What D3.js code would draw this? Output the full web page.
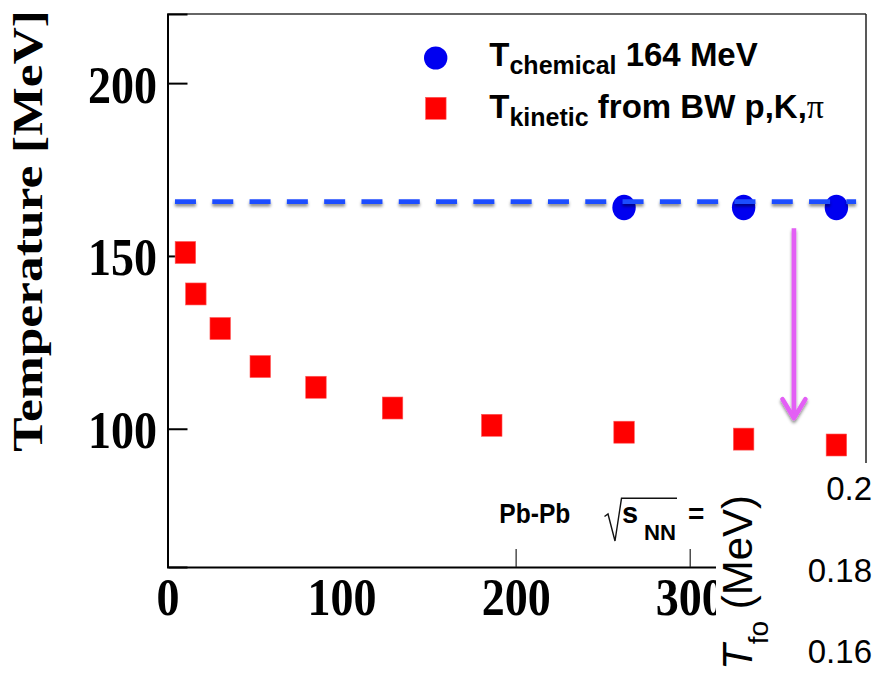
<!DOCTYPE html>
<html>
<head>
<meta charset="utf-8">
<script src="https://cdn.jsdelivr.net/npm/d3@7/dist/d3.min.js"></script>
<style>
  html, body { margin: 0; padding: 0; background: #fff; }
  svg { display: block; }
</style>
</head>
<body>
<svg id="chart" width="873" height="675"></svg>
<script>
// ---- data ----
const xKinetic = [10, 16, 30, 53, 85, 129, 186, 262, 330.7, 384];
const tKinetic = [151, 139, 129, 118, 112, 106, 101, 99, 97, 95.3];
const xChemical = [262, 330.7, 384];
const tChemical = [164, 164, 164];
const tChemLine = 165.7;
const chemLineRange = [4, 395.3];
const arrowX = 359.6;
const arrowFrom = 158;
const arrowTo = 102.5;
const yTicks = [100, 150, 200];
const xTicks = [0, 100, 200, 300];
const xTickMarks = [200, 300];
const insetTicks = [0.16, 0.18, 0.2];

const svg = d3.select("#chart");
const x = d3.scaleLinear().domain([0, 401]).range([168, 866]);
const y = d3.scaleLinear().domain([60, 220]).range([567, 14]);

const defs = svg.append("defs");
const f = defs.append("filter").attr("id", "shadow")
  .attr("filterUnits", "userSpaceOnUse")
  .attr("x", 0).attr("y", 0).attr("width", 873).attr("height", 675);
f.append("feDropShadow").attr("dx", 0).attr("dy", 2.5).attr("stdDeviation", 1.4)
  .attr("flood-color", "#000").attr("flood-opacity", 0.45);

const serif = "'Liberation Serif', 'Times New Roman', serif";
const sans = "'Liberation Sans', Arial, Helvetica, sans-serif";

// ---- frame ----
svg.append("line").attr("x1", x(0) - 0.5).attr("x2", 866).attr("y1", 14).attr("y2", 14)
  .attr("stroke", "#333").attr("stroke-width", 1.5);
svg.append("line").attr("x1", 866).attr("x2", 866).attr("y1", 14).attr("y2", 567)
  .attr("stroke", "#222").attr("stroke-width", 1.5);

// y axis
const yAxis = d3.axisRight(y).tickValues(yTicks).tickSize(20).tickFormat("");
const gy = svg.append("g").attr("transform", `translate(${x(0) - 0.5},0)`).call(yAxis);
gy.select(".domain").attr("stroke", "#000").attr("stroke-width", 2);
gy.selectAll(".tick line").attr("stroke", "#000").attr("stroke-width", 2);

// y tick labels
svg.append("g").selectAll("text").data(yTicks).join("text")
  .attr("x", 157).attr("y", d => y(d)).attr("dy", "0.366em")
  .attr("text-anchor", "end")
  .attr("font-family", serif).attr("font-weight", "bold").attr("font-size", 53)
  .attr("textLength", d => String(d).length * 23).attr("lengthAdjust", "spacingAndGlyphs")
  .text(d => d);

// x axis
const xAxis = d3.axisBottom(x).tickValues(xTicks).tickSize(0).tickFormat("");
const gx = svg.append("g").attr("transform", "translate(0,567)").call(xAxis);
gx.select(".domain").attr("stroke", "#000").attr("stroke-width", 2);
svg.append("g").selectAll("line").data(xTickMarks).join("line")
  .attr("x1", d => x(d)).attr("x2", d => x(d)).attr("y1", 567).attr("y2", 549)
  .attr("stroke", "#222").attr("stroke-width", 1.2);
svg.append("g").selectAll("text").data(xTicks).join("text")
  .attr("x", d => x(d)).attr("y", 615)
  .attr("text-anchor", "middle")
  .attr("font-family", serif).attr("font-weight", "bold").attr("font-size", 53)
  .attr("textLength", d => String(d).length * 23).attr("lengthAdjust", "spacingAndGlyphs")
  .text(d => d);

// ---- kinetic squares ----
svg.append("g").selectAll("rect").data(xKinetic.map((v, i) => [v, tKinetic[i]])).join("rect")
  .attr("x", d => x(d[0]) - 10.25).attr("y", d => y(d[1]) - 11)
  .attr("width", 20.5).attr("height", 22)
  .attr("fill", "#ff0000").attr("stroke", "#ff5a5a").attr("stroke-width", 0.6);

// ---- chemical circles ----
svg.append("g").selectAll("ellipse").data(xChemical.map((v, i) => [v, tChemical[i]])).join("ellipse")
  .attr("cx", d => x(d[0])).attr("cy", d => y(d[1]))
  .attr("rx", 11.7).attr("ry", 12.8)
  .attr("fill", "#0000f0");

// dashed line
svg.append("line")
  .attr("x1", x(chemLineRange[0])).attr("x2", x(chemLineRange[1]))
  .attr("y1", y(tChemLine)).attr("y2", y(tChemLine))
  .attr("stroke", "#1f4dff").attr("stroke-width", 4.7)
  .attr("stroke-dasharray", "21 16.3")
  .attr("filter", "url(#shadow)");

// arrow
const ag = svg.append("g").attr("filter", "url(#shadow)");
ag.append("line").attr("x1", x(arrowX)).attr("x2", x(arrowX))
  .attr("y1", y(arrowFrom)).attr("y2", y(arrowTo) - 3)
  .attr("stroke", "#e35ef5").attr("stroke-width", 4.6);
ag.append("path")
  .attr("d", `M${x(arrowX) - 11.5},${y(arrowTo) - 21} L${x(arrowX)},${y(arrowTo) - 2} L${x(arrowX) + 11.5},${y(arrowTo) - 21}`)
  .attr("fill", "none").attr("stroke", "#e35ef5").attr("stroke-width", 4.6)
  .attr("stroke-linecap", "round").attr("stroke-linejoin", "round");

// ---- legend ----
svg.append("ellipse").attr("cx", 435.7).attr("cy", 58).attr("rx", 11.7).attr("ry", 11.6).attr("fill", "#0000f0");
svg.append("rect").attr("x", 425.6).attr("y", 97.3).attr("width", 20.5).attr("height", 22)
  .attr("fill", "#ff0000").attr("stroke", "#ff5a5a").attr("stroke-width", 0.6);

const l1 = svg.append("text").attr("x", 489.3).attr("y", 66)
  .attr("font-family", sans).attr("font-weight", "bold").attr("font-size", 33).attr("fill", "#000");
l1.append("tspan").text("T");
l1.append("tspan").attr("font-size", 25).attr("dy", 8.3).text("chemical");
l1.append("tspan").attr("dy", -8.3).text(" 164 MeV");

const l2 = svg.append("text").attr("x", 489.3).attr("y", 117.5)
  .attr("font-family", sans).attr("font-weight", "bold").attr("font-size", 33).attr("fill", "#000");
l2.append("tspan").text("T");
l2.append("tspan").attr("font-size", 25).attr("dy", 8.3).text("kinetic");
l2.append("tspan").attr("dy", -8.3).text(" from BW p,K,");
l2.append("tspan").attr("font-family", serif).attr("font-weight", "normal").attr("font-size", 34).text("π");

// ---- Pb-Pb annotation ----
const pbStyle = sel => sel.attr("font-family", sans).attr("font-weight", "bold").attr("fill", "#000");
svg.append("text").attr("x", 499.3).attr("y", 523.3).call(pbStyle).attr("font-size", 28)
  .attr("textLength", 71).attr("lengthAdjust", "spacingAndGlyphs").text("Pb-Pb");
svg.append("text").attr("x", 622).attr("y", 523.3).call(pbStyle).attr("font-size", 29).text("s");
svg.append("text").attr("x", 644).attr("y", 540).call(pbStyle).attr("font-size", 22)
  .attr("textLength", 32).attr("lengthAdjust", "spacingAndGlyphs").text("NN");
svg.append("text").attr("x", 688).attr("y", 523.3).call(pbStyle).attr("font-size", 28).text("=");
svg.append("path")
  .attr("d", "M604.5,516.5 L608,514 L615,541 L621.5,498.3 L677,498.3")
  .attr("fill", "none").attr("stroke", "#111").attr("stroke-width", 1.4);

// ---- y title ----
svg.append("text")
  .attr("transform", "translate(41.7,451.7) rotate(-90)")
  .attr("font-family", serif).attr("font-weight", "bold").attr("font-size", 42)
  .attr("textLength", 441.7).attr("lengthAdjust", "spacingAndGlyphs")
  .text("Temperature [MeV]");

// ---- inset (overlapping panel) ----
svg.append("rect").attr("x", 716).attr("y", 463).attr("width", 160).attr("height", 215).attr("fill", "#fff");
const insetY = d3.scaleLinear().domain([0.16, 0.2]).range([663.3, 500]);
svg.append("g").selectAll("text").data(insetTicks).join("text")
  .attr("x", 872).attr("y", d => insetY(d))
  .attr("text-anchor", "end")
  .attr("font-family", sans).attr("font-size", 33).attr("fill", "#000")
  .text(d => String(d));
const it = svg.append("text")
  .attr("transform", "translate(752,670) rotate(-90)")
  .attr("font-family", sans).attr("font-size", 42).attr("fill", "#000");
it.append("tspan").attr("font-style", "italic").text("T");
it.append("tspan").attr("font-size", 28).attr("dy", 16).text("fo");
it.append("tspan").attr("dy", -16).text(" (MeV)");
</script>
</body>
</html>
